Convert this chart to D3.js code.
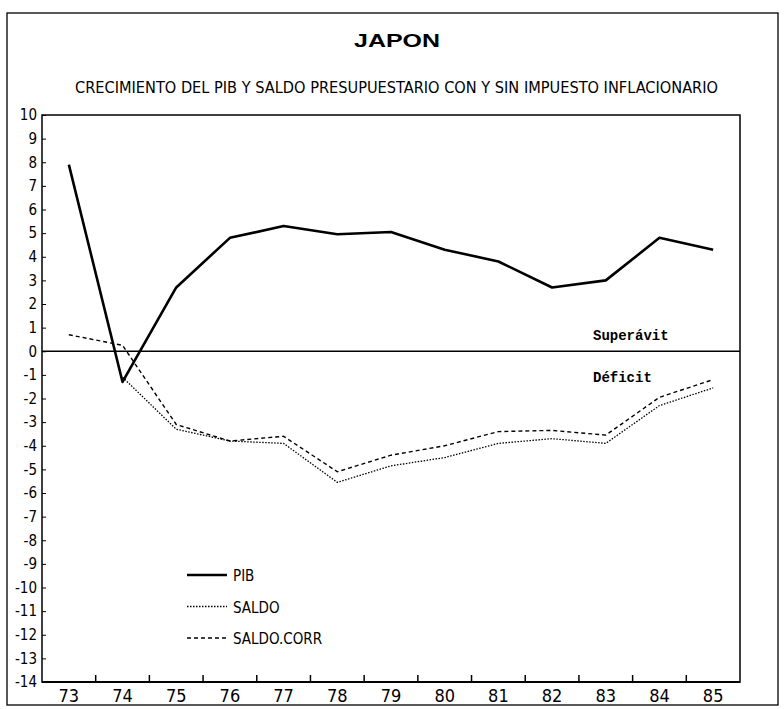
<!DOCTYPE html>
<html>
<head>
<meta charset="utf-8">
<script src="https://cdn.jsdelivr.net/npm/d3@7"></script>
<style>
  body { margin: 0; background: #fff; }
  svg { display: block; }
</style>
</head>
<body>
<svg id="chart" width="784" height="709"></svg>
<script>
// data (percent)
const years = ['73', '74', '75', '76', '77', '78', '79', '80', '81', '82', '83', '84', '85']
const pib = [7.9, -1.3, 2.7, 4.8, 5.3, 4.95, 5.05, 4.3, 3.8, 2.7, 3.0, 4.8, 4.3]
const saldo = [null, -1.1, -3.3, -3.8, -3.9, -5.55, -4.85, -4.5, -3.9, -3.7, -3.9, -2.3, -1.55]
const saldoCorr = [0.7, 0.25, -3.1, -3.8, -3.6, -5.1, -4.4, -4.0, -3.4, -3.35, -3.55, -1.95, -1.2]
const yTicks = d3.range(-14, 11)

const series = [
  { name: 'PIB', values: pib, width: 2.6, dash: null },
  { name: 'SALDO', values: saldo, width: 1.3, dash: '1.5,1.5' },
  { name: 'SALDO.CORR', values: saldoCorr, width: 1.4, dash: '4,3' }
]

const plotLeft = 42
const plotRight = 740
const plotTop = 115
const plotBottom = 682

const svg = d3.select('#chart')

const narrow = '"DejaVu Sans Condensed", "Liberation Sans Narrow", "Liberation Sans", sans-serif'
const mono = '"Liberation Mono", "DejaVu Sans Mono", monospace'

// outer frame
svg.append('rect')
  .attr('x', 7).attr('y', 13)
  .attr('width', 771).attr('height', 692)
  .attr('fill', 'none')
  .attr('stroke', '#000')
  .attr('stroke-width', 1.3)

// titles
svg.append('text')
  .attr('x', 397).attr('y', 47)
  .attr('text-anchor', 'middle')
  .attr('textLength', 86)
  .attr('lengthAdjust', 'spacingAndGlyphs')
  .style('font-family', '"Liberation Sans", sans-serif')
  .style('font-weight', 700)
  .style('font-size', '18px')
  .text('JAPON')

svg.append('text')
  .attr('x', 75).attr('y', 93)
  .attr('textLength', 643)
  .attr('lengthAdjust', 'spacingAndGlyphs')
  .style('font-family', narrow)
  .style('font-size', '15px')
  .text('CRECIMIENTO DEL PIB Y SALDO PRESUPUESTARIO CON Y SIN IMPUESTO INFLACIONARIO')

const x = d3.scalePoint()
  .domain(years)
  .range([plotLeft, plotRight])
  .padding(0.5)

const y = d3.scaleLinear()
  .domain([-14, 10])
  .range([plotBottom, plotTop])

// plot frame
svg.append('rect')
  .attr('x', plotLeft).attr('y', plotTop)
  .attr('width', plotRight - plotLeft).attr('height', plotBottom - plotTop)
  .attr('fill', 'none')
  .attr('stroke', '#000')
  .attr('stroke-width', 1.5)

svg.append('line')
  .attr('x1', plotLeft).attr('x2', plotRight)
  .attr('y1', plotBottom).attr('y2', plotBottom)
  .attr('stroke', '#000')
  .attr('stroke-width', 2)

// y axis, ticks pointing inside, plain hyphen for negatives
const yAxis = svg.append('g')
  .attr('transform', `translate(${plotLeft},0)`)
  .call(d3.axisLeft(y)
    .tickValues(yTicks)
    .tickFormat(d => String(d))
    .tickSizeInner(-4)
    .tickSizeOuter(0)
    .tickPadding(5))

yAxis.select('.domain').remove()
yAxis.selectAll('text')
  .style('font-family', narrow)
  .style('font-size', '15px')
  .attr('fill', '#000')

// x axis: labels at years, ticks between them
const step = x.step()
svg.selectAll('.xtick')
  .data(years.slice(0, -1))
  .enter()
  .append('line')
    .attr('class', 'xtick')
    .attr('x1', d => x(d) + step / 2)
    .attr('x2', d => x(d) + step / 2)
    .attr('y1', plotBottom)
    .attr('y2', plotBottom - 7)
    .attr('stroke', '#000')
    .attr('stroke-width', 1.5)

svg.selectAll('.xlabel')
  .data(years)
  .enter()
  .append('text')
    .attr('class', 'xlabel')
    .attr('x', d => x(d))
    .attr('y', plotBottom + 20)
    .attr('text-anchor', 'middle')
    .style('font-family', narrow)
    .style('font-size', '18px')
    .text(d => d)

// zero line
svg.append('line')
  .attr('x1', plotLeft).attr('x2', plotRight)
  .attr('y1', y(0)).attr('y2', y(0))
  .attr('stroke', '#000')
  .attr('stroke-width', 1.6)

svg.append('text')
  .attr('x', 593).attr('y', y(0) - 11)
  .style('font-family', mono)
  .style('font-weight', 700)
  .style('font-size', '14px')
  .text('Superávit')

svg.append('text')
  .attr('x', 593).attr('y', y(0) + 31)
  .style('font-family', mono)
  .style('font-weight', 700)
  .style('font-size', '14px')
  .text('Déficit')

// lines
const line = d3.line()
  .defined(d => d.v != null)
  .x(d => x(d.year))
  .y(d => y(d.v))

series.forEach(s => {
  svg.append('path')
    .datum(years.map((year, i) => ({ year, v: s.values[i] })))
    .attr('d', line)
    .attr('fill', 'none')
    .attr('stroke', '#000')
    .attr('stroke-width', s.width)
    .attr('stroke-linejoin', 'round')
    .attr('stroke-dasharray', s.dash)
})

// legend
const legend = svg.append('g')
  .attr('transform', 'translate(187, 575)')

series.forEach((s, i) => {
  legend.append('line')
    .attr('x1', 0).attr('x2', 40)
    .attr('y1', i * 31.5).attr('y2', i * 31.5)
    .attr('stroke', '#000')
    .attr('stroke-width', s.width)
    .attr('stroke-dasharray', s.dash)

  legend.append('text')
    .attr('x', 46)
    .attr('y', i * 31.5 + 6)
    .style('font-family', narrow)
    .style('font-size', '15px')
    .text(s.name)
})
</script>
</body>
</html>
